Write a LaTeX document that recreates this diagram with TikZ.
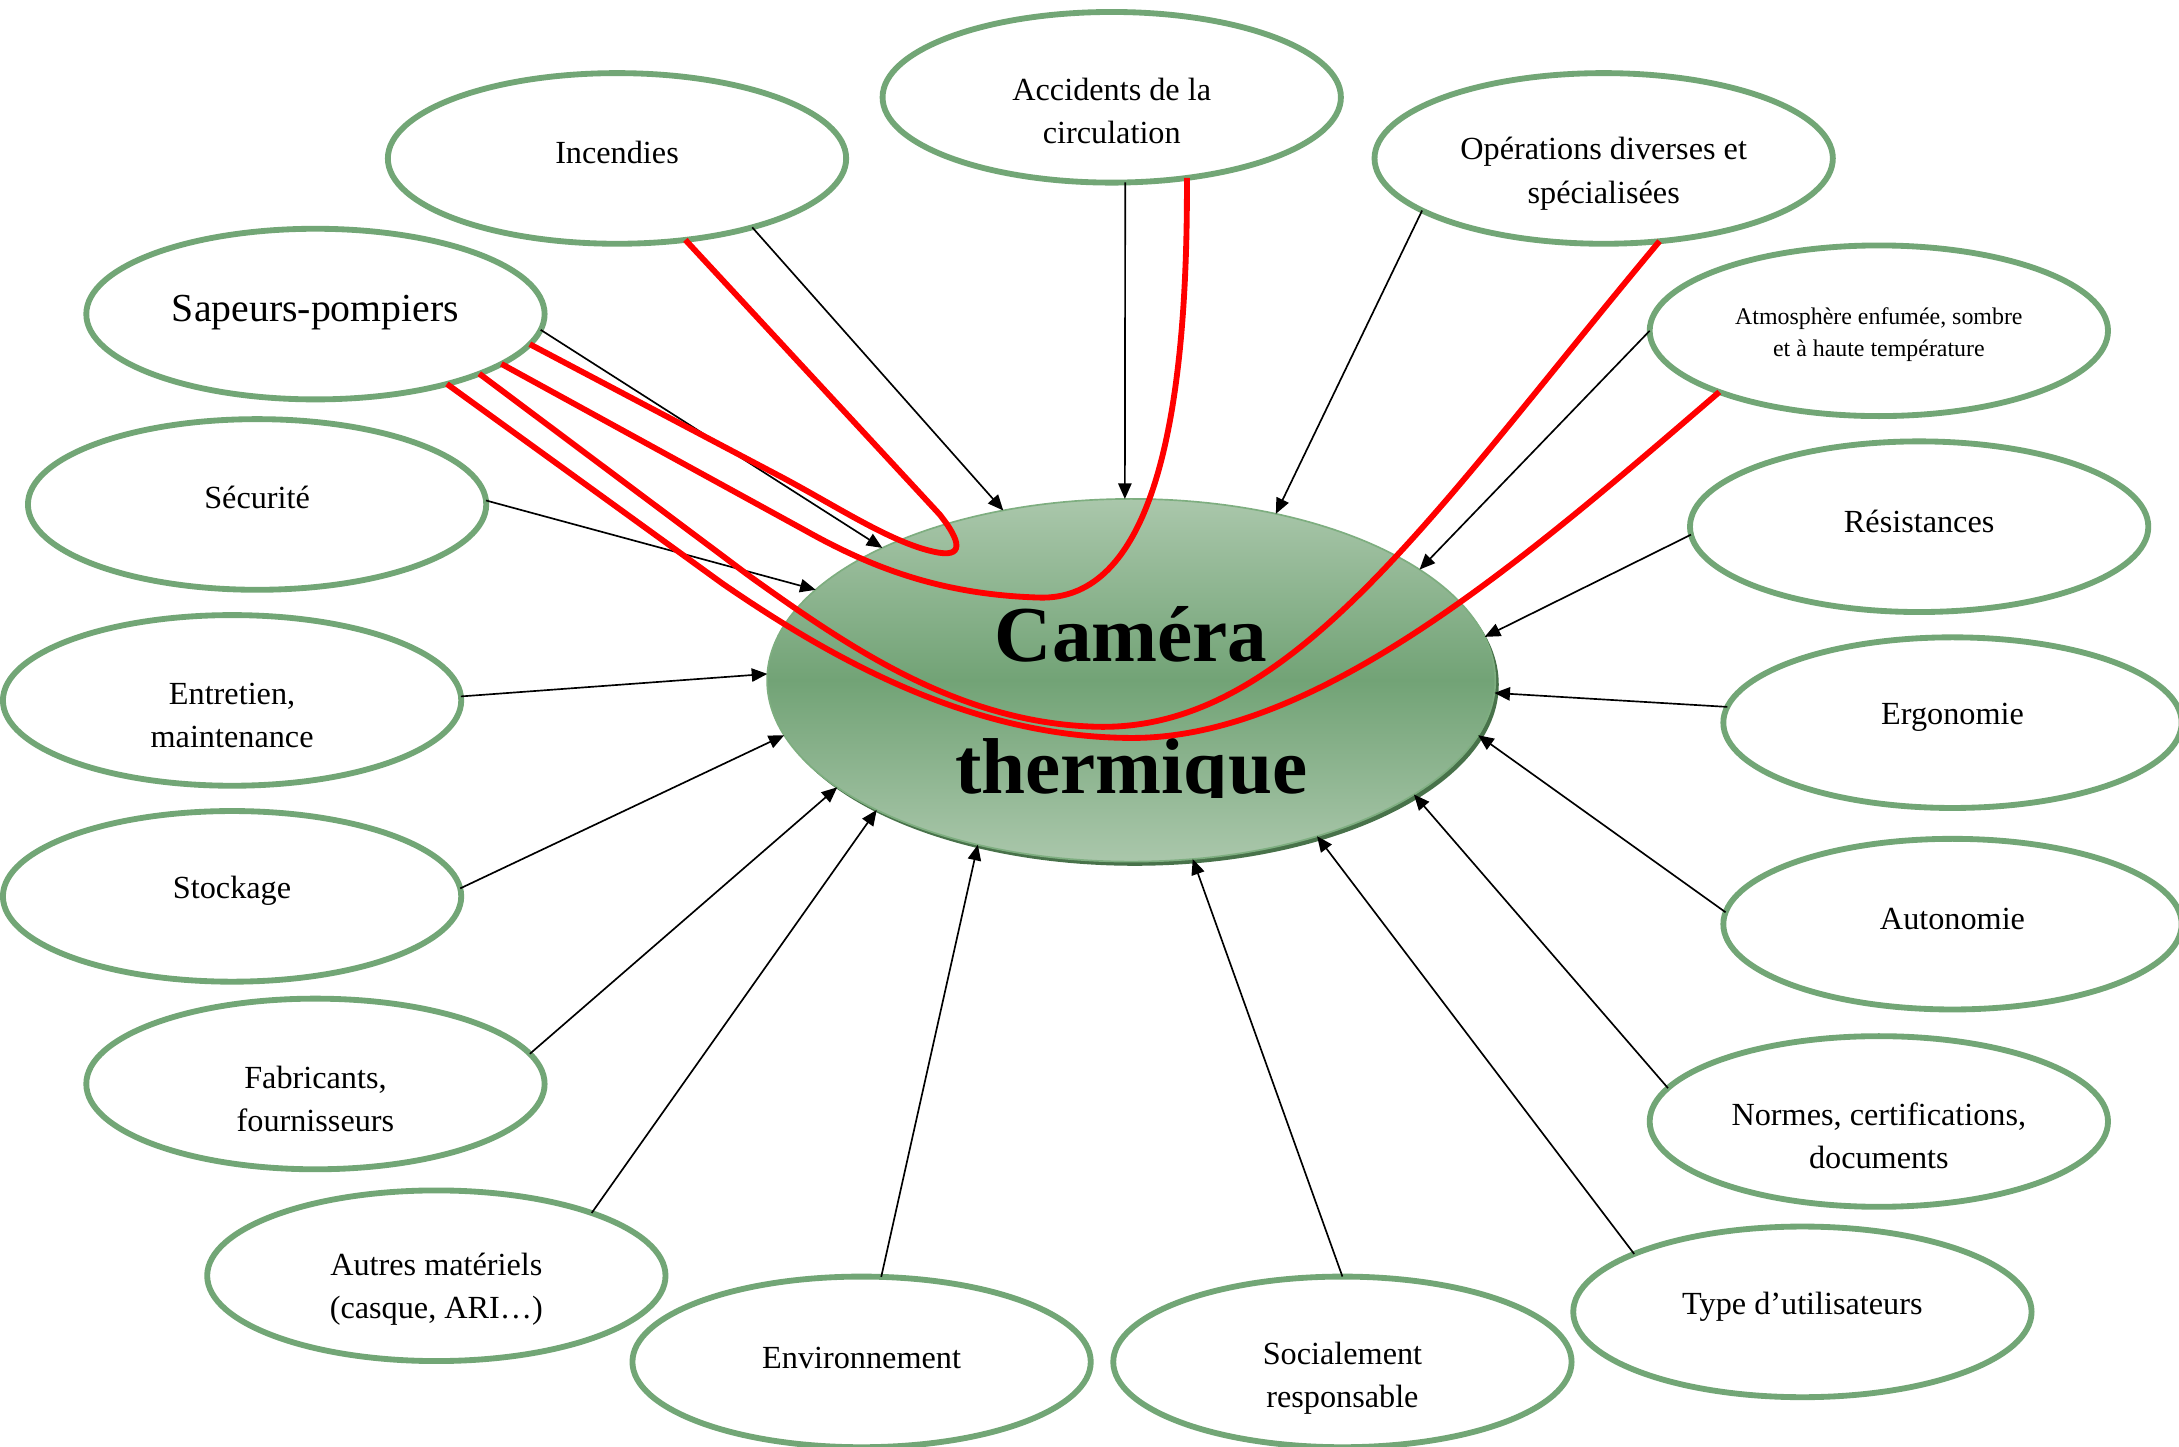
\documentclass[tikz,border=0pt]{standalone}
\usepackage{fontspec}
\setmainfont{Liberation Serif}
\usetikzlibrary{arrows.meta,shapes.geometric}
\definecolor{gborder}{RGB}{114,166,118}
\definecolor{camlight}{RGB}{170,199,171}
\definecolor{camdark}{RGB}{114,163,118}
\definecolor{camshadow}{RGB}{72,114,74}
\definecolor{camedge}{RGB}{126,174,128}
\begin{document}
\begin{tikzpicture}[x=0.5pt,y=-0.5pt,
  sat/.style={ellipse, draw=gborder, line width=2.1pt, fill=white,
    minimum width=164.9pt, minimum height=61.4pt, inner sep=0pt, outer sep=0pt},
  txt/.style={align=center, inner sep=0pt, font=\fontsize{11.6}{15.5}\selectfont},
  arr/.style={line width=0.6pt, -{Triangle[length=5.6pt,width=4.8pt]}},
  redl/.style={draw=red, line width=2.1pt},
  camtxt/.style={inner sep=0pt, anchor=base, font=\bfseries\fontsize{28.5}{47.5}\selectfont}]
\useasboundingbox (0,0) rectangle (1568,1041);
\fill[white] (0,0) rectangle (1568,1041);

% satellite ellipses
\node[sat] (acc) at (800,70) {};
\node[sat] (inc) at (444,114) {};
\node[sat] (ope) at (1154,114) {};
\node[sat] (sap) at (227,226) {};
\node[sat] (atm) at (1352,238) {};
\node[sat] (sec) at (185,363) {};
\node[sat] (res) at (1381,379) {};
\node[sat] (ent) at (167,504) {};
\node[sat] (erg) at (1405,520) {};
\node[sat] (sto) at (167,645) {};
\node[sat] (aut) at (1405,665) {};
\node[sat] (fab) at (227,780) {};
\node[sat] (nor) at (1352,807) {};
\node[sat] (ama) at (314,918) {};
\node[sat] (typ) at (1297,944) {};
\node[sat] (env) at (620,980) {};
\node[sat] (soc) at (966,980) {};

% texts
\node[txt] (tacc) at (800,80) {Accidents de la\\circulation};
\node[txt] (tinc) at (444,110) {Incendies};
\node[txt] (tope) at (1154,125) {Opérations diverses et\\spécialisées};
\node[txt, font=\fontsize{14.3}{18}\selectfont] (tsap) at (227,225) {Sapeurs-pompiers};
\node[txt, font=\fontsize{8.6}{11.5}\selectfont] (tatm) at (1352,241) {Atmosphère enfumée, sombre\\et à haute température};
\node[txt] (tsec) at (185,358) {Sécurité};
\node[txt] (tres) at (1381,375) {Résistances};
\node[txt] (tent) at (167,515) {Entretien,\\maintenance};
\node[txt] (terg) at (1405,516) {Ergonomie};
\node[txt] (tsto) at (167,641) {Stockage};
\node[txt] (taut) at (1405,661) {Autonomie};
\node[txt] (tfab) at (227,791) {Fabricants,\\fournisseurs};
\node[txt] (tnor) at (1352,817) {Normes, certifications,\\documents};
\node[txt] (tama) at (314,928) {Autres matériels\\(casque, ARI…)};
\node[txt] (ttyp) at (1297,940) {Type d’utilisateurs};
\node[txt] (tenv) at (620,977) {Environnement};
\node[txt] (tsoc) at (966,992) {Socialement\\responsable};

% central ellipse
\node[ellipse, fill=camshadow, minimum width=262pt, minimum height=130.5pt,
  inner sep=0pt, outer sep=0pt] (camsh) at (816.5,492.5) {};
\node[ellipse, draw=camedge, line width=0.6pt, top color=camlight, bottom color=camlight,
  middle color=camdark, minimum width=262pt, minimum height=130.5pt,
  inner sep=0pt, outer sep=0pt] (cam) at (814,489.5) {};
\begin{scope}
\clip (540,380) rectangle (1090,574);
\node[camtxt] (tcam1) at (814,476) {Caméra};
\node[camtxt] (tcam2) at (814,571) {thermique};
\end{scope}

% arrows
\draw[arr] (inc.-27) -- (cam.127.7);
\draw[arr] (acc.-81.7) -- (cam.92.2);
\draw[arr] (ope.196.4) -- (cam.49.7);
\draw[arr] (sap.-4.5) -- (cam.152.9);
\draw[arr] (atm.180.7) -- (cam.21);
\draw[arr] (sec.1) -- (cam.164.6);
\draw[arr] (res.182) -- (cam.7.6);
\draw[arr] (ent.1) -- (cam.179.8);
\draw[arr] (erg.176.6) -- (cam.-2.5);
\draw[arr] (sto.2.4) -- (cam.189.9);
\draw[arr] (aut.177.2) -- (cam.-9.8);
\draw[arr] (fab.8.9) -- (cam.200.9);
\draw[arr] (nor.171.3) -- (cam.-22.9);
\draw[arr] (ama.22.1) -- (cam.207.7);
\draw[arr] (typ.161.8) -- (cam.-40.7);
\draw[arr] (env.77.3) -- (cam.227.6);
\draw[arr] (soc.90) -- (cam.-71.6);

% red curves
\draw[redl] (inc.-50.7) -- (676,370) .. controls (692,390) and (694,402) .. (672,397)
  .. controls (640,390) and (600,363) .. (560,342) -- (sap.-8.5);
\draw[redl] (acc.-47.9) .. controls (855,330) and (820,432) .. (748,430)
  .. controls (680,428) and (630,410) .. (580,382) -- (sap.-15.5);
\draw[redl] (ope.-56.5) .. controls (1030,370) and (930,525) .. (791,523)
  .. controls (690,521) and (610,465) .. (540,415) -- (sap.-20.9);
\draw[redl] (atm.201.1) .. controls (1100,400) and (950,531) .. (815,531)
  .. controls (700,531) and (600,475) .. (520,420) -- (sap.-28.5);
\end{tikzpicture}
\end{document}
